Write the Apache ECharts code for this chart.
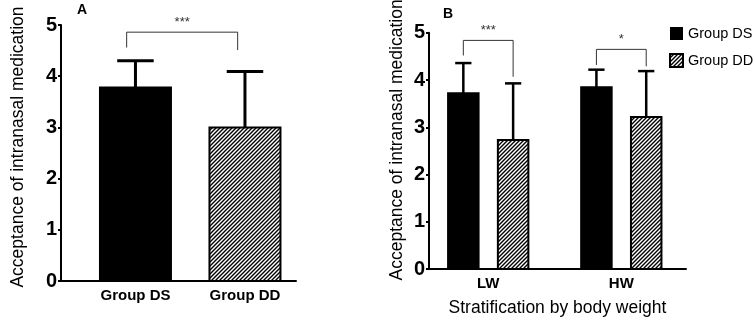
<!DOCTYPE html>
<html>
<head>
<meta charset="utf-8">
<script src="https://cdn.jsdelivr.net/npm/echarts@6/dist/echarts.min.js"></script>
<style>
  html, body { margin: 0; padding: 0; background: #fff; }
  #chart { width: 754px; height: 322px; }
</style>
</head>
<body>
<div id="chart"></div>
<script>
  // panel A: overall comparison
  var catsA = ['Group DS', 'Group DD'];
  var meanA = [3.78, 3.0];
  var sdA = [0.52, 1.09];
  var sigA = ['***'];

  // panel B: stratified by body weight
  var catsB = ['LW', 'HW'];
  var dsMeanB = [3.72, 3.85];
  var dsSdB = [0.64, 0.37];
  var ddMeanB = [2.73, 3.22];
  var ddSdB = [1.20, 0.97];
  var sigB = ['***', '*'];

  var seriesNames = ['Group DS', 'Group DD'];
  var yName = 'Acceptance of intranasal medication';
  var xNameB = 'Stratification by body weight';

  var font = 'Liberation Sans, Arial, Helvetica, sans-serif';

  // diagonal hatch used for Group DD
  function makeHatch() {
    var c = document.createElement('canvas');
    c.width = 4; c.height = 4;
    var ctx = c.getContext('2d');
    ctx.fillStyle = '#fff';
    ctx.fillRect(0, 0, 4, 4);
    ctx.strokeStyle = '#000';
    ctx.lineWidth = 1.4;
    ctx.beginPath();
    ctx.moveTo(-1, 5); ctx.lineTo(5, -1);
    ctx.moveTo(-1, 1); ctx.lineTo(1, -1);
    ctx.moveTo(3, 5); ctx.lineTo(5, 3);
    ctx.stroke();
    return c;
  }
  var hatch = { image: makeHatch(), repeat: 'repeat' };

  function barRender(offsetPx, barW, lw) {
    return function (params, api) {
      var x = api.value(0), m = api.value(1), sd = api.value(2);
      var base = api.coord([x, 0]);
      var top = api.coord([x, m]);
      var errTop = api.coord([x, m + sd]);
      var cx = base[0] + offsetPx;
      var fill = params.seriesName === 'Group DD' ? hatch : '#000';
      return {
        type: 'group',
        children: [
          { type: 'line', shape: { x1: cx, y1: top[1], x2: cx, y2: errTop[1] }, style: { stroke: '#000', lineWidth: lw } },
          { type: 'line', shape: { x1: cx - barW / 4, y1: errTop[1], x2: cx + barW / 4, y2: errTop[1] }, style: { stroke: '#000', lineWidth: lw } },
          { type: 'rect', shape: { x: cx - barW / 2 + 1, y: top[1], width: barW - 2, height: base[1] - top[1] }, style: { fill: fill, stroke: '#000', lineWidth: 2 } }
        ]
      };
    };
  }

  // brackets: [xFrom, xTo, top, dropLeft, dropRight]
  function bracketRender(offL, offR, labels) {
    return function (params, api) {
      var t = api.coord([api.value(0), api.value(2)]);
      var l = api.coord([api.value(0), api.value(3)]);
      var r = api.coord([api.value(1), api.value(4)]);
      var xl = t[0] + offL;
      var xr = r[0] + offR;
      return {
        type: 'group',
        children: [
          { type: 'polyline', shape: { points: [[xl, l[1]], [xl, t[1]], [xr, t[1]], [xr, r[1]]] }, style: { stroke: '#333', lineWidth: 1, fill: null } },
          { type: 'text', x: (xl + xr) / 2, y: t[1] - 3, style: { text: labels[params.dataIndex], fontSize: 13, fontFamily: font, fill: '#333', align: 'center', verticalAlign: 'bottom' } }
        ]
      };
    };
  }

  function rows(means, sds) {
    return means.map(function (m, i) { return [i, m, sds[i]]; });
  }

  var chart = echarts.init(document.getElementById('chart'), null, { renderer: 'canvas' });

  var yAxisBase = {
    type: 'value', min: 0, max: 5, interval: 1,
    name: yName, nameLocation: 'middle',
    axisLine: { show: true, onZero: false, lineStyle: { color: '#000', width: 2 } },
    axisTick: { show: true, length: 3, lineStyle: { color: '#000', width: 2 } },
    axisLabel: { fontSize: 20, fontWeight: 'bold', fontFamily: font, color: '#000', margin: 4 },
    splitLine: { show: false }
  };

  function xAxisBase(cats, min, max) {
    return {
      type: 'value', min: min, max: max,
      axisLine: { show: true, onZero: false, lineStyle: { color: '#000', width: 2 } },
      axisTick: { show: false },
      splitLine: { show: false },
      axisLabel: {
        customValues: cats.map(function (c, i) { return i; }),
        formatter: function (v) { return cats[Math.round(v)]; },
        fontSize: 15, fontWeight: 'bold', fontFamily: font, color: '#000', margin: 7
      }
    };
  }

  var xA = xAxisBase(catsA, -0.68, 1.466);
  var xB = xAxisBase(catsB, -0.445, 1.486);
  xB.name = xNameB;
  xB.nameLocation = 'middle';
  xB.nameGap = 30;
  xB.nameTextStyle = { fontSize: 17.5, fontFamily: font, color: '#000' };

  var yA = Object.assign({}, yAxisBase, { gridIndex: 0, nameGap: 34, nameTextStyle: { fontSize: 17.5, fontFamily: font, color: '#000', padding: [0, 0, 0, 12] } });
  var yB = Object.assign({}, yAxisBase, { gridIndex: 1, nameGap: 23, nameTextStyle: { fontSize: 17.5, fontFamily: font, color: '#000', padding: [0, 0, 0, 22] } });

  chart.setOption({
    backgroundColor: '#fff',
    animation: false,
    title: [
      { text: 'A', left: 77, top: 3, padding: 0, textStyle: { fontSize: 14, fontWeight: 'bold', fontFamily: font, color: '#000' } },
      { text: 'B', left: 443, top: 7, padding: 0, textStyle: { fontSize: 14, fontWeight: 'bold', fontFamily: font, color: '#000' } }
    ],
    legend: {
      left: 669, top: 26, orient: 'vertical', padding: 0,
      itemWidth: 13, itemHeight: 13, itemGap: 12,
      icon: 'rect',
      data: seriesNames,
      textStyle: { fontSize: 14.5, fontFamily: font, color: '#000' }
    },
    grid: [
      { left: 61, right: 458, top: 25, bottom: 41 },
      { left: 429, right: 68, top: 24.3, bottom: 47.7 }
    ],
    xAxis: [Object.assign({ gridIndex: 0 }, xA), Object.assign({ gridIndex: 1 }, xB)],
    yAxis: [yA, yB],
    series: [
      {
        type: 'custom', name: 'Group DS', xAxisIndex: 0, yAxisIndex: 0,
        itemStyle: { color: '#000' },
        renderItem: barRender(0, 73, 3),
        data: [[0, meanA[0], sdA[0]]]
      },
      {
        type: 'custom', name: 'Group DD', xAxisIndex: 0, yAxisIndex: 0,
        itemStyle: { color: hatch, borderColor: '#000', borderWidth: 1 },
        renderItem: barRender(0, 73, 3),
        data: [[1, meanA[1], sdA[1]]]
      },
      {
        type: 'custom', name: 'Group DS', xAxisIndex: 1, yAxisIndex: 1,
        itemStyle: { color: '#000' },
        renderItem: barRender(-24.9, 32.5, 2.5),
        data: rows(dsMeanB, dsSdB)
      },
      {
        type: 'custom', name: 'Group DD', xAxisIndex: 1, yAxisIndex: 1,
        itemStyle: { color: hatch, borderColor: '#000', borderWidth: 1 },
        renderItem: barRender(24.9, 32.5, 2.5),
        data: rows(ddMeanB, ddSdB)
      },
      {
        type: 'custom', name: 'sigA', xAxisIndex: 0, yAxisIndex: 0, silent: true,
        renderItem: bracketRender(-8.8, -7.3, sigA),
        data: [[0, 1, 4.86, 4.56, 4.51]]
      },
      {
        type: 'custom', name: 'sigB', xAxisIndex: 1, yAxisIndex: 1, silent: true,
        renderItem: bracketRender(-24.9, 24.9, sigB),
        data: [[0, 0, 4.84, 4.52, 4.07], [1, 1, 4.65, 4.32, 4.29]]
      }
    ]
  });
</script>
</body>
</html>
